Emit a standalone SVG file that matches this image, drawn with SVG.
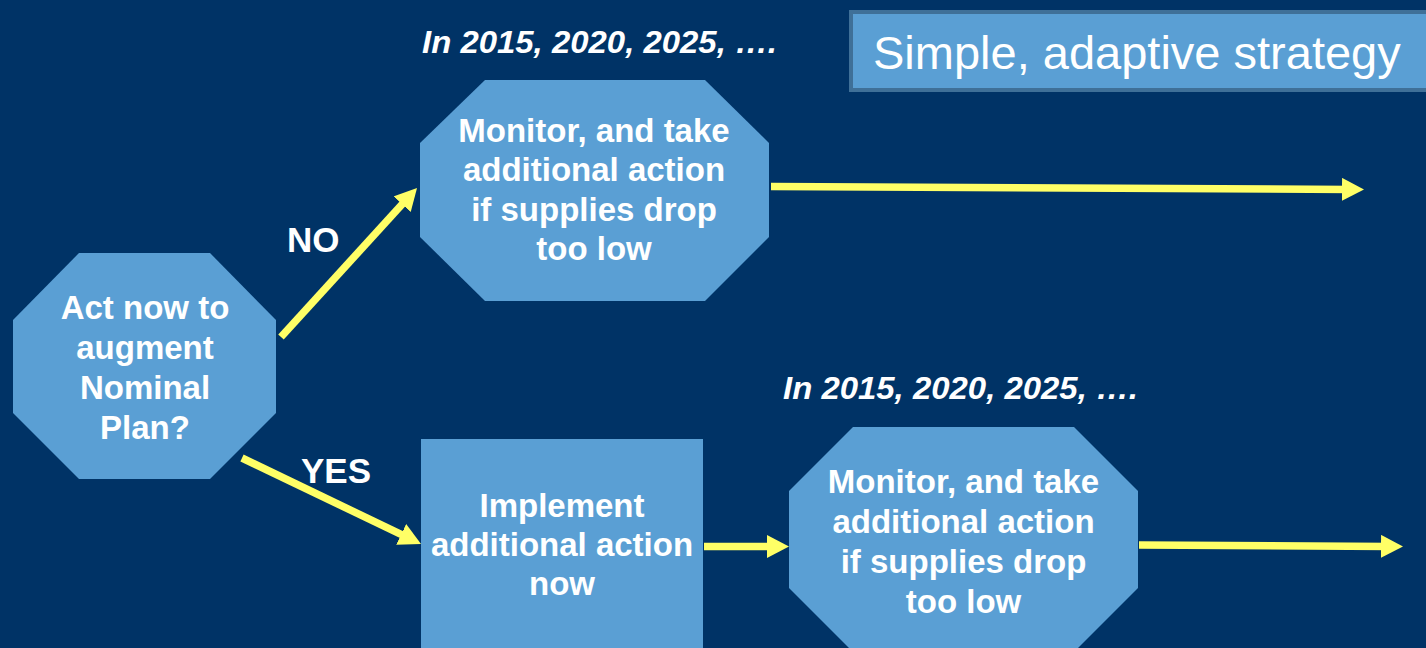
<svg xmlns="http://www.w3.org/2000/svg" width="1426" height="648" viewBox="0 0 1426 648">
<defs>
<style>
.node{fill:#5A9FD4;}
.t{font-family:"Liberation Sans",Arial,sans-serif;font-weight:bold;font-size:33px;fill:#FFFFFF;text-anchor:middle;}
.lbl{font-family:"Liberation Sans",Arial,sans-serif;font-weight:bold;font-size:35px;fill:#FFFFFF;}
.yr{font-family:"Liberation Sans",Arial,sans-serif;font-weight:bold;font-style:italic;font-size:31px;fill:#FFFFFF;}
.title{font-family:"Liberation Sans",Arial,sans-serif;font-size:47px;fill:#FFFFFF;}
.arr{fill:none;stroke:#FFFF66;stroke-width:7.5;marker-end:url(#ah);}
</style>
<marker id="ah" markerUnits="userSpaceOnUse" markerWidth="24" markerHeight="24" refX="8" refY="11.5" orient="auto">
<path d="M0,0 L22,11.5 L0,23 Z" fill="#FFFF66"/>
</marker>
</defs>
<rect x="0" y="0" width="1426" height="648" fill="#003366"/>

<g id="title">
<rect x="851" y="12" width="590" height="78" fill="#5A9FD4" stroke="#3F7098" stroke-width="4"/>
<text class="title" x="873" y="69">Simple, adaptive strategy</text>
</g>

<g id="label-top"><text class="yr" x="422" y="53" textLength="355" lengthAdjust="spacingAndGlyphs">In 2015, 2020, 2025, ….</text></g>
<g id="label-bottom"><text class="yr" x="783" y="399" textLength="355" lengthAdjust="spacingAndGlyphs">In 2015, 2020, 2025, ….</text></g>

<g id="connectors">
<path class="arr" d="M281,337 L407.6,198.3"/>
<path class="arr" d="M242,458 L408.4,537.9"/>
<path class="arr" d="M771,186.5 L1350,189.4"/>
<path class="arr" d="M704,546.5 L775,546.5"/>
<path class="arr" d="M1139,545 L1389,546.4"/>
<text class="lbl" x="287" y="252">NO</text>
<text class="lbl" x="301" y="483">YES</text>
</g>

<g id="decision">
<polygon class="node" points="79,253 210,253 276,320 276,413 210,479 79,479 13,413 13,320"/>
<text class="t" x="145" y="319">Act now to</text>
<text class="t" x="145" y="359">augment</text>
<text class="t" x="145" y="399">Nominal</text>
<text class="t" x="145" y="439">Plan?</text>
</g>

<g id="monitor-top">
<polygon class="node" points="485,80 705,80 769,143 769,237 705,301 485,301 420,237 420,143"/>
<text class="t" x="594" y="142">Monitor, and take</text>
<text class="t" x="594" y="181">additional action</text>
<text class="t" x="594" y="221">if supplies drop</text>
<text class="t" x="594" y="260">too low</text>
</g>

<g id="implement">
<rect class="node" x="421" y="439" width="282" height="215"/>
<text class="t" x="562" y="517">Implement</text>
<text class="t" x="562" y="556">additional action</text>
<text class="t" x="562" y="595">now</text>
</g>

<g id="monitor-bottom">
<polygon class="node" points="853,427 1074,427 1138,491 1138,588 1074,652 853,652 789,588 789,491"/>
<text class="t" x="963.5" y="493">Monitor, and take</text>
<text class="t" x="963.5" y="533">additional action</text>
<text class="t" x="963.5" y="573">if supplies drop</text>
<text class="t" x="963.5" y="613">too low</text>
</g>
</svg>
